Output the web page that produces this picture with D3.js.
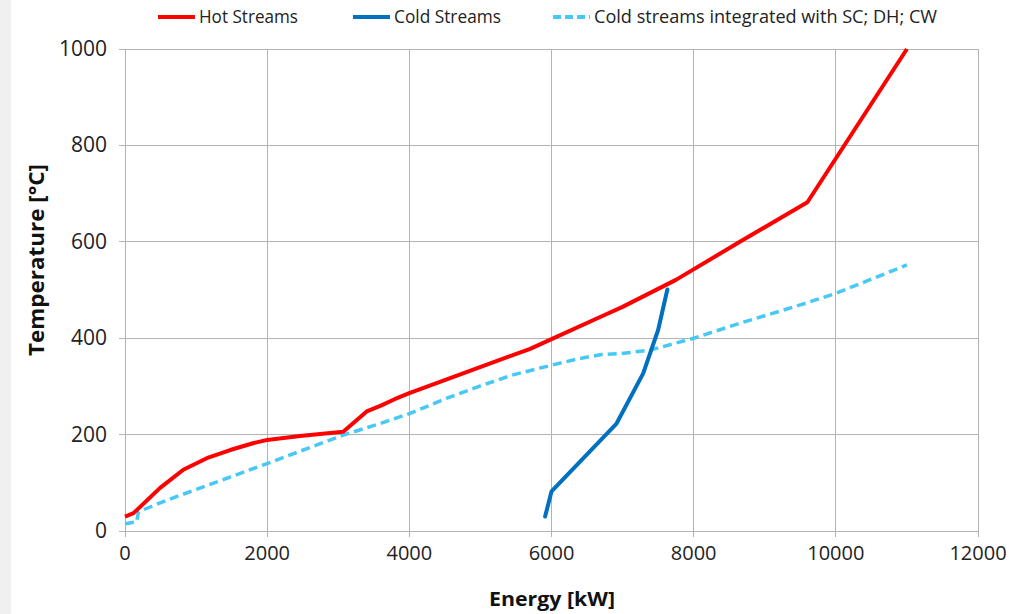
<!DOCTYPE html>
<html><head><meta charset="utf-8">
<script src="https://cdn.jsdelivr.net/npm/d3@7"></script>
<style>
html,body{margin:0;padding:0;background:#fff;}
svg{display:block;}
</style></head>
<body>
<svg id="c" width="1009" height="614"></svg>
<script>
const hotE = [0, 120, 490, 820, 1150, 1480, 1800, 2000, 2460, 3070, 3400, 3600, 3800, 4000, 5700, 6000, 6700, 7000, 7750, 8650, 9600, 11000];
const hotT = [30, 37, 89, 127, 151, 168, 182, 189, 197, 206, 248, 260, 274, 286, 378, 398, 445, 465, 521, 600, 682, 1000];
const coldE = [5910, 6000, 6915, 7290, 7500, 7630];
const coldT = [30, 82, 223, 327, 417, 501];
const intE = [0, 164, 190, 590, 2000, 3070, 3590, 4010, 4520, 5000, 5460, 6000, 6400, 6700, 6960, 7380, 8000, 8650, 9500, 10000, 11000];
const intT = [15, 19, 40, 64, 140, 199, 223, 244, 275, 301, 324, 344, 358, 366, 368, 375, 400, 431, 469, 493, 552];
const xTicks = [0, 2000, 4000, 6000, 8000, 10000, 12000];
const yTicks = [0, 200, 400, 600, 800, 1000];
const seriesNames = ["Hot Streams", "Cold Streams", "Cold streams integrated with SC; DH; CW"];
const xTitle = "Energy [kW]";
const yTitle = "Temperature [°C]";

const svg = d3.select("#c");
const L = 125, R = 978, T = 49, B = 531;
svg.append("rect").attr("x",0).attr("y",0).attr("width",11).attr("height",614).attr("fill","#f0f0f0");

const x = d3.scaleLinear().domain([0, 12000]).range([L, R]);
const y = d3.scaleLinear().domain([0, 1000]).range([B, T]);
const font = "'Open Sans', 'Noto Sans', sans-serif";
const grid = "#b3b3b3";

// gridlines
svg.append("g").selectAll("line").data(xTicks).join("line")
  .attr("x1", d => x(d)).attr("x2", d => x(d)).attr("y1", T).attr("y2", B + 6)
  .attr("stroke", grid).attr("stroke-width", 1).attr("shape-rendering","crispEdges");
svg.append("g").selectAll("line").data(yTicks).join("line")
  .attr("x1", L - 6).attr("x2", R).attr("y1", d => y(d)).attr("y2", d => y(d))
  .attr("stroke", grid).attr("stroke-width", 1).attr("shape-rendering","crispEdges");

// tick labels
svg.append("g").selectAll("text").data(xTicks).join("text")
  .attr("x", d => x(d)).attr("y", 560).attr("text-anchor","middle")
  .attr("font-family", font).attr("font-size", 20).attr("fill","#222")
  .text(d => d);
svg.append("g").selectAll("text").data(yTicks).join("text")
  .attr("x", 107).attr("y", d => y(d) + 7).attr("text-anchor","end")
  .attr("font-family", font).attr("font-size", 21).attr("fill","#222")
  .text(d => d);

// axis titles
svg.append("text").attr("x", 552).attr("y", 606).attr("text-anchor","middle")
  .attr("font-family", font).attr("font-size", 20).attr("font-weight","bold").attr("fill","#111")
  .attr("textLength", 126).attr("lengthAdjust","spacingAndGlyphs")
  .text(xTitle);
svg.append("text").attr("transform","translate(44,260) rotate(-90)").attr("text-anchor","middle")
  .attr("font-family", font).attr("font-size", 21).attr("font-weight","bold").attr("fill","#111")
  .attr("textLength", 192).attr("lengthAdjust","spacingAndGlyphs")
  .text(yTitle);

// lines
const line = d3.line().x(d => x(d[0])).y(d => y(d[1]));
const hot = hotE.map((e,i) => [e, hotT[i]]);
const cold = coldE.map((e,i) => [e, coldT[i]]);
const integ = intE.map((e,i) => [e, intT[i]]);
const colors = ["#ff0000", "#0070c0", "#47c8f5"];

svg.append("path").datum(integ).attr("d", line).attr("fill","none")
  .attr("stroke", colors[2]).attr("stroke-width", 3.5).attr("stroke-dasharray","9,5");
svg.append("path").datum(cold).attr("d", line).attr("fill","none")
  .attr("stroke", colors[1]).attr("stroke-width", 4).attr("stroke-linejoin","round").attr("stroke-linecap","round");
svg.append("path").datum(hot).attr("d", line).attr("fill","none")
  .attr("stroke", colors[0]).attr("stroke-width", 4).attr("stroke-linejoin","round");

// legend
const legX = [158, 353, 553];
const legW = [99, 107, 343];
const lg = svg.append("g");
seriesNames.forEach((n, i) => {
  lg.append("line").attr("x1", legX[i]).attr("x2", legX[i] + 37).attr("y1", 17).attr("y2", 17)
    .attr("stroke", colors[i]).attr("stroke-width", 4)
    .attr("stroke-dasharray", i === 2 ? "8,4" : null);
  lg.append("text").attr("x", legX[i] + 41).attr("y", 23)
    .attr("font-family", font).attr("font-size", 18).attr("fill","#222")
    .attr("textLength", legW[i]).attr("lengthAdjust","spacingAndGlyphs")
    .text(n);
});
</script>
</body></html>
